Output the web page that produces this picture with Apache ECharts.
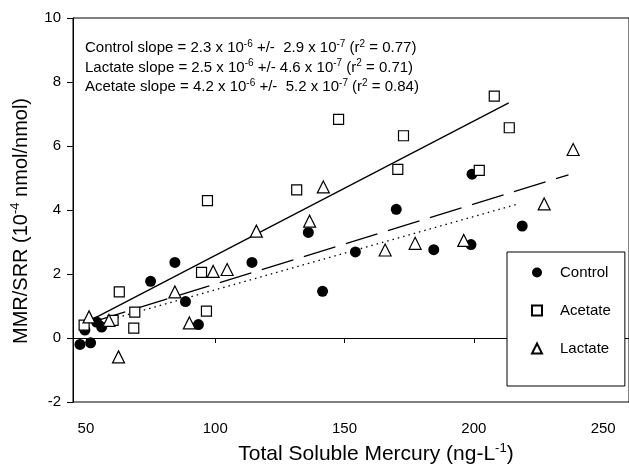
<!DOCTYPE html>
<html>
<head>
<meta charset="utf-8">
<script src="https://cdn.jsdelivr.net/npm/echarts@6/dist/echarts.min.js"></script>
<style>
  html, body { margin: 0; padding: 0; background: #fff; }
  #chart { width: 629px; height: 471px; }
</style>
</head>
<body>
<div id="chart"></div>
<script>
// data: [total soluble Hg (ng/L), MMR/SRR (1e-4 nmol/nmol)]
const controlPts = [
  [47.7, -0.20], [51.8, -0.15], [49.6, 0.25], [54.1, 0.50], [56.1, 0.34],
  [75.0, 1.77], [84.4, 2.36], [88.5, 1.14], [93.5, 0.42], [114.2, 2.36],
  [136.0, 3.30], [141.5, 1.46], [154.2, 2.69], [170.0, 4.02], [184.5, 2.76],
  [198.9, 2.92], [199.3, 5.12], [218.7, 3.50]
];
const acetatePts = [
  [49.3, 0.40], [60.5, 0.55], [62.9, 1.44], [68.5, 0.31], [68.9, 0.81],
  [94.7, 2.05], [96.6, 0.84], [97.0, 4.29], [131.5, 4.63], [147.7, 6.83],
  [170.6, 5.27], [172.8, 6.32], [202.1, 5.24], [207.9, 7.56], [213.7, 6.57]
];
const lactatePts = [
  [51.2, 0.66], [58.9, 0.55], [62.6, -0.59], [84.4, 1.44], [90.0, 0.47],
  [99.2, 2.08], [104.6, 2.14], [115.9, 3.34], [136.5, 3.65], [141.8, 4.72],
  [165.7, 2.75], [177.3, 2.96], [196.1, 3.05], [227.2, 4.19], [238.4, 5.89]
];
// regression line end points
const controlFit = [[56, 0.50], [217.2, 4.19]];
const acetateFit = [[52.8, 0.60], [213.5, 7.35]];
const lactateFit = [[53, 0.51], [236.6, 5.10]];

const xTicks = [50, 100, 150, 200, 250];

const fam = '"Liberation Sans", Arial, Helvetica, sans-serif';
const slopeLines = [
  'Control slope = 2.3 x 10{s|-6} +/-  2.9 x 10{s|-7} (r{s|2} = 0.77)',
  'Lactate slope = 2.5 x 10{s|-6} +/- 4.6 x 10{s|-7} (r{s|2} = 0.71)',
  'Acetate slope = 4.2 x 10{s|-6} +/-  5.2 x 10{s|-7} (r{s|2} = 0.84)'
];

const chart = echarts.init(document.getElementById('chart'));

const supStyle = { fontSize: 10, lineHeight: 11, verticalAlign: 'top', fontFamily: fam, fill: '#000', color: '#000' };

chart.setOption({
  animation: false,
  backgroundColor: '#fff',
  textStyle: { fontFamily: fam, color: '#000' },
  grid: {
    left: 73, top: 18, width: 557, height: 387,
    show: true, borderColor: '#000', borderWidth: 1, backgroundColor: 'transparent'
  },
  xAxis: {
    type: 'value', min: 45, max: 260,
    name: 'Total Soluble Mercury (ng-L{s|-1})',
    nameLocation: 'middle', nameGap: 40,
    nameTextStyle: {
      fontSize: 21, color: '#000', padding: [0, 0, 0, 50], lineHeight: 24,
      rich: { s: { fontSize: 13, lineHeight: 14, verticalAlign: 'top', fontFamily: fam, color: '#000' } }
    },
    axisLine: { lineStyle: { color: '#000', width: 1 } },
    axisTick: { show: true, length: 5, lineStyle: { color: '#000' }, customValues: xTicks },
    axisLabel: { fontSize: 15, color: '#000', margin: 19, customValues: xTicks },
    splitLine: { show: false }
  },
  yAxis: {
    type: 'value', min: -2, max: 10, interval: 2,
    name: 'MMR/SRR (10{s|-4} nmol/nmol)',
    nameLocation: 'middle', nameGap: 34,
    nameTextStyle: {
      fontSize: 20, color: '#000', lineHeight: 24, padding: [0, 22, 0, 0],
      rich: { s: { fontSize: 13, lineHeight: 14, verticalAlign: 'top', fontFamily: fam, color: '#000' } }
    },
    axisLine: { show: true, lineStyle: { color: '#000', width: 1 } },
    axisTick: { show: true, length: 6, lineStyle: { color: '#000' } },
    axisLabel: { fontSize: 15, color: '#000', margin: 12 },
    splitLine: { show: false }
  },
  legend: {
    data: ['Control', 'Acetate', 'Lactate'],
    orient: 'vertical', left: 507, top: 252,
    padding: [13, 14, 30, 24], itemGap: 23,
    itemWidth: 10, itemHeight: 10,
    backgroundColor: '#fff', borderColor: '#000', borderWidth: 1,
    textStyle: { fontSize: 15, color: '#000', fontFamily: fam, padding: [0, 0, 0, 13] }
  },
  graphic: slopeLines.map((t, i) => ({
    type: 'text', left: 85, top: 39 + i * 19.5,
    style: {
      text: t, fontSize: 15, fontFamily: fam, fill: '#000', lineHeight: 18,
      rich: { s: supStyle }
    }
  })),
  series: [
    {
      name: 'acetate fit', type: 'line', data: acetateFit, symbol: 'none',
      lineStyle: { color: '#000', width: 1.3, type: 'solid' }, z: 2
    },
    {
      name: 'lactate fit', type: 'line', data: lactateFit, symbol: 'none',
      lineStyle: { color: '#000', width: 1.3, type: [33, 11] }, z: 2
    },
    {
      name: 'control fit', type: 'line', data: controlFit, symbol: 'none',
      lineStyle: { color: '#000', width: 1.3, type: [1.5, 4] }, z: 2
    },
    {
      name: 'Control', type: 'scatter', data: controlPts, symbol: 'circle', symbolSize: 11,
      itemStyle: { color: '#000', borderColor: '#000', borderWidth: 0, opacity: 1 }, z: 3
    },
    {
      name: 'Acetate', type: 'scatter', data: acetatePts, symbol: 'rect', symbolSize: 10,
      itemStyle: { color: '#fff', borderColor: '#000', borderWidth: 1.2, opacity: 1 }, z: 3
    },
    {
      name: 'Lactate', type: 'scatter', data: lactatePts, symbol: 'triangle', symbolSize: 12,
      itemStyle: { color: '#fff', borderColor: '#000', borderWidth: 1.2, opacity: 1 }, z: 3
    }
  ]
});
</script>
</body>
</html>
